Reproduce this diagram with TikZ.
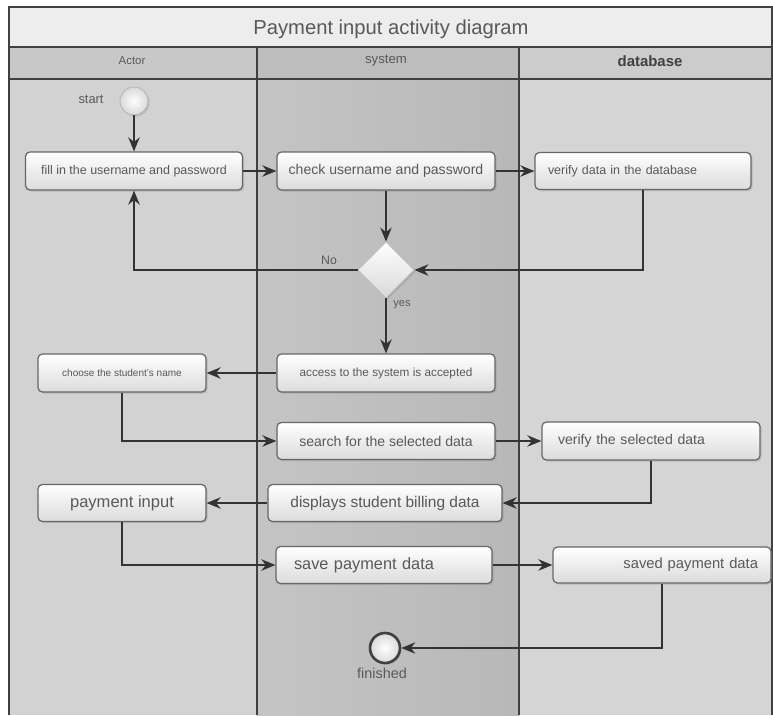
\documentclass[tikz,border=0pt]{standalone}
\usepackage{fontspec}
\setmainfont{Liberation Sans}
\usetikzlibrary{arrows.meta,shapes.geometric,shadows}
\newcommand{\fsz}[1]{\fontsize{#1}{#1}\selectfont}
\tikzset{
	act/.style={draw=black!60, line width=0.7pt, rounded corners=2.5pt, top color=white, bottom color=gray!28, text=black!65, inner sep=0pt, drop shadow={opacity=0.3, shadow xshift=0.9pt, shadow yshift=-0.9pt}},
	decision/.style={diamond, aspect=1, minimum width=11.2mm, minimum height=11.2mm, inner sep=0pt, draw=gray!50, top color=white, bottom color=gray!30, drop shadow={opacity=0.3, shadow xshift=0.9pt, shadow yshift=-0.9pt}},
	flow/.style={draw=black!80, line width=0.8pt, -{Stealth[length=8pt,width=6.5pt]}},
	lane/.style={draw=black!75, line width=0.7pt},
	lbl/.style={text=black!65, inner sep=1pt},
}
\begin{document}
\begin{tikzpicture}[x=0.2mm, y=-0.2mm]
		\useasboundingbox (0,0) rectangle (773,715);
		
		% lanes
		\fill[gray!14] (9,7) rectangle (772,47);
		\fill[gray!43] (9,47) rectangle (257,79);
		\fill[gray!52] (257,47) rectangle (519,79);
		\fill[gray!40] (519,47) rectangle (772,79);
		\fill[gray!35] (9,79) rectangle (257,715);
		\shade[left color=gray!46, right color=gray!56] (257,79) rectangle (519,715);
		\fill[gray!33] (519,79) rectangle (772,715);
		\draw[lane] (9,715) -- (9,7) -- (772,7) -- (772,715);
		\draw[lane] (9,47) -- (772,47);
		\draw[lane] (9,79) -- (772,79);
		\draw[lane] (257,47) -- (257,715);
		\draw[lane] (519,47) -- (519,715);
		
		\node[lbl, font=\fsz{11.5}] (title) at (391,29) {Payment input activity diagram};
		\node[lbl, font=\fsz{6.5}] (actor) at (132,61) {Actor};
		\node[lbl, font=\fsz{7.5}] (system) at (386,61) {system};
		\node[lbl, font=\fsz{8.5}\bfseries, text=black!75] (database) at (650,61) {database};
		
		% actions
		\node[circle, minimum size=5.6mm, inner sep=0pt, draw=gray!60, inner color=white, outer color=gray!30, drop shadow={opacity=0.3, shadow xshift=0.9pt, shadow yshift=-0.9pt}] (start) at (134,101) {};
		\node[lbl, font=\fsz{7.3}] (startlbl) at (91,99) {start};
		
		\node[act, minimum width=43.4mm, minimum height=7.6mm, font=\fsz{7.1}] (fill) at (134,171) {fill in the username and password};
		\node[act, minimum width=43.6mm, minimum height=7.6mm, font=\fsz{8}] (check) at (386,171) {check username and password};
		\node[act, minimum width=43.2mm, minimum height=7.4mm, text width=38mm, align=left, font=\fsz{7.1}] (verifydb) at (643,171) {verify data in the database};
		
		\node[decision] (dec) at (386,270) {};
		\node[lbl, font=\fsz{7}] (no) at (329,260) {No};
		\node[lbl, font=\fsz{6.3}] (yes) at (402,305) {yes};
		
		\node[act, minimum width=43.6mm, minimum height=7.6mm, font=\fsz{6.7}] (access) at (386,373) {access to the system is accepted};
		\node[act, minimum width=33.6mm, minimum height=7.6mm, font=\fsz{5.7}] (choose) at (122,373) {choose the student's name};
		
		\node[act, minimum width=43.6mm, minimum height=7.4mm, font=\fsz{8}] (search) at (386,441) {search for the selected data};
		\node[act, minimum width=43.6mm, minimum height=7.6mm, text width=37.2mm, align=left, font=\fsz{8}] (verifysel) at (651,441) {verify the selected data};
		
		\node[act, minimum width=46.8mm, minimum height=7.4mm, font=\fsz{8.8}] (displays) at (385,503) {displays student billing data};
		\node[act, minimum width=33.6mm, minimum height=7.4mm, font=\fsz{9.4}] (payin) at (122,503) {payment input};
		
		\node[act, minimum width=43.2mm, minimum height=7.4mm, text width=36mm, align=left, font=\fsz{9.3}] (save) at (384,565) {save payment data};
		\node[act, minimum width=43.6mm, minimum height=7.2mm, text width=38.4mm, align=right, font=\fsz{8.4}] (saved) at (662,565) {saved payment data};
		
		\node[circle, minimum size=6mm, inner sep=0pt, draw=black!75, line width=1.5pt, inner color=white, outer color=gray!30, drop shadow={opacity=0.3, shadow xshift=0.9pt, shadow yshift=-0.9pt}] (finish) at (385,648) {};
		\node[lbl, font=\fsz{8.2}] (finishlbl) at (382,673) {finished};
		
		% flows
		\draw[flow] (start) -- (fill);
		\draw[flow] (fill) -- (check);
		\draw[flow] (check) -- (verifydb);
		\draw[flow] (check) -- (dec);
		\draw[flow] (dec.west) -| (fill.south);
		\draw[flow] (verifydb.south) |- (dec.east);
		\draw[flow] (dec) -- (access);
		\draw[flow] (access) -- (choose);
		\draw[flow] (choose.south) |- (search.west);
		\draw[flow] (search) -- (verifysel);
		\draw[flow] (verifysel.south) |- (displays.east);
		\draw[flow] (displays) -- (payin);
		\draw[flow] (payin.south) |- (save.west);
		\draw[flow] (save) -- (saved);
		\draw[flow] (saved.south) |- (finish.east);
	\end{tikzpicture}
\end{document}
